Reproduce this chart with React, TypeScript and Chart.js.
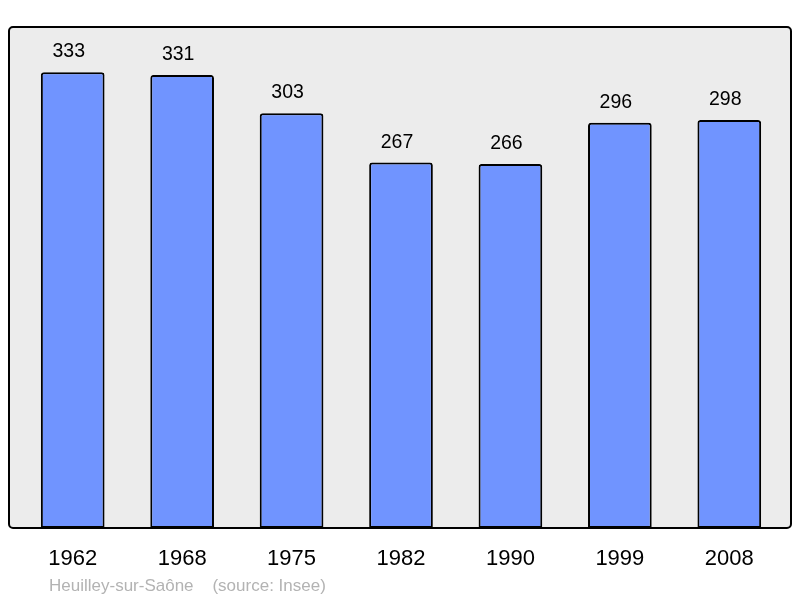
import React, { useEffect, useRef } from "react";
import { Chart, registerables } from "chart.js";

Chart.register(...registerables);

const years = ["1962", "1968", "1975", "1982", "1990", "1999", "2008"];
const population = [333, 331, 303, 267, 266, 296, 298];
const sourceText = "Heuilley-sur-Saône    (source: Insee)";

const FONT = "'Liberation Sans', Arial, sans-serif";

const decorPlugin = {
  id: "decor",
  beforeDraw(chart: any) {
    const { ctx, chartArea } = chart;
    const left = 9;
    const right = 791;
    const top = chartArea.top;
    const bottom = chartArea.bottom;
    ctx.save();
    ctx.beginPath();
    ctx.roundRect(left, top, right - left, bottom - top, 4);
    ctx.fillStyle = "#ececec";
    ctx.fill();
    ctx.restore();
  },
  afterDatasetsDraw(chart: any) {
    const { ctx, chartArea } = chart;
    const left = 9;
    const right = 791;
    const top = chartArea.top;
    const bottom = chartArea.bottom;
    ctx.save();
    ctx.beginPath();
    ctx.roundRect(left, top, right - left, bottom - top, 4);
    ctx.lineWidth = 2;
    ctx.strokeStyle = "#000";
    ctx.stroke();

    const meta = chart.getDatasetMeta(0);
    const xScale = chart.scales.x;
    ctx.fillStyle = "#000";
    ctx.textAlign = "center";
    ctx.textBaseline = "alphabetic";
    ctx.font = `19.5px ${FONT}`;
    meta.data.forEach((bar: any, i: number) => {
      ctx.fillText(String(population[i]), bar.x - 4, bar.y - 15);
    });
    ctx.font = `22px ${FONT}`;
    years.forEach((y, i) => {
      ctx.fillText(y, xScale.getPixelForValue(i), 565);
    });
    ctx.textAlign = "left";
    ctx.font = `17px ${FONT}`;
    ctx.fillStyle = "#b3b3b3";
    ctx.fillText(sourceText, 49, 591);
    ctx.restore();
  },
};

export default function App() {
  const ref = useRef<HTMLCanvasElement>(null);
  useEffect(() => {
    document.body.style.margin = "0";
    const chart = new Chart(ref.current!, {
      type: "bar",
      data: {
        labels: years,
        datasets: [
          {
            data: population,
            backgroundColor: "#7094ff",
            borderColor: "#000",
            borderWidth: 2,
            borderRadius: { topLeft: 3, topRight: 3, bottomLeft: 0, bottomRight: 0 },
            borderSkipped: false,
            barPercentage: 0.582,
            categoryPercentage: 1,
          },
        ],
      },
      options: {
        animation: false,
        responsive: false,
        maintainAspectRatio: false,
        layout: { padding: { left: 18, right: 16, top: 27, bottom: 70 } },
        plugins: { legend: { display: false }, tooltip: { enabled: false } },
        scales: {
          x: { display: false },
          y: { display: false, min: 0, max: 366 },
        },
      },
      plugins: [decorPlugin],
    });
    return () => chart.destroy();
  }, []);
  return <canvas ref={ref} width={800} height={598} style={{ display: "block" }} />;
}
